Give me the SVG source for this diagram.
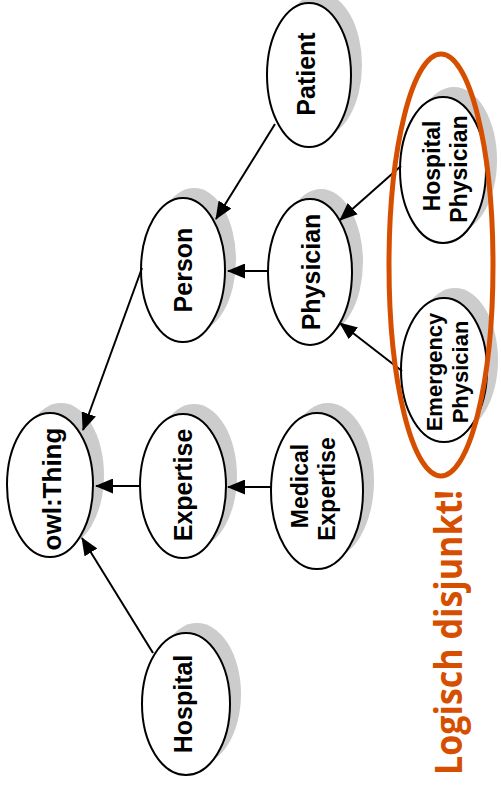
<svg xmlns="http://www.w3.org/2000/svg" width="501" height="787" viewBox="0 0 501 787">
  <style>
    .shadow { fill: #cccccc; stroke: none; }
    .node { fill: #ffffff; stroke: #000000; stroke-width: 2; }
    .label { font-family: "Liberation Sans", Arial, sans-serif; font-weight: bold; fill: #000000; text-anchor: middle; }
    .edge { stroke: #000000; stroke-width: 2; fill: none; marker-end: url(#arrow); }
    .note { font-family: "Open Sans", "Liberation Sans", sans-serif; font-weight: bold; fill: #d64f00; }
  </style>
  <defs>
    <marker id="arrow" viewBox="0 0 18 15" refX="17" refY="7.5" markerWidth="18" markerHeight="15" markerUnits="userSpaceOnUse" orient="auto">
      <path d="M0,0 L18,7.5 L0,15 z" fill="#000000"/>
    </marker>
  </defs>

  <rect width="501" height="787" fill="#ffffff"/>

  <g id="owl-thing">
    <ellipse class="shadow" cx="61" cy="475" rx="43" ry="72"/>
    <ellipse class="node" cx="50" cy="485" rx="43" ry="72"/>
    <text class="label" font-size="26" transform="translate(61,489) rotate(-90)">owl:Thing</text>
  </g>

  <g id="expertise">
    <ellipse class="shadow" cx="194" cy="476" rx="43" ry="72"/>
    <ellipse class="node" cx="183" cy="486" rx="43" ry="72"/>
    <text class="label" font-size="25" transform="translate(192,485) rotate(-90)">Expertise</text>
  </g>

  <g id="medical-expertise">
    <ellipse class="shadow" cx="328" cy="481" rx="46" ry="78"/>
    <ellipse class="node" cx="317" cy="491" rx="46" ry="78"/>
    <text class="label" font-size="23" transform="translate(308,486) rotate(-90)">Medical</text>
    <text class="label" font-size="23" transform="translate(335,489) rotate(-90)">Expertise</text>
  </g>

  <g id="hospital">
    <ellipse class="shadow" cx="197" cy="694" rx="44" ry="71"/>
    <ellipse class="node" cx="186" cy="704" rx="44" ry="71"/>
    <text class="label" font-size="25" transform="translate(192,704) rotate(-90)">Hospital</text>
  </g>

  <g id="person">
    <ellipse class="shadow" cx="194" cy="260" rx="42" ry="72"/>
    <ellipse class="node" cx="183" cy="270" rx="42" ry="72"/>
    <text class="label" font-size="25" transform="translate(192,270) rotate(-90)">Person</text>
  </g>

  <g id="physician">
    <ellipse class="shadow" cx="321" cy="262" rx="42" ry="73"/>
    <ellipse class="node" cx="310" cy="272" rx="42" ry="73"/>
    <text class="label" font-size="25" transform="translate(320,272) rotate(-90)">Physician</text>
  </g>

  <g id="patient">
    <ellipse class="shadow" cx="320" cy="65" rx="42" ry="72"/>
    <ellipse class="node" cx="309" cy="75" rx="42" ry="72"/>
    <text class="label" font-size="25" transform="translate(315,74) rotate(-90)">Patient</text>
  </g>

  <g id="hospital-physician">
    <ellipse class="shadow" cx="454" cy="160" rx="43" ry="73"/>
    <ellipse class="node" cx="443" cy="170" rx="43" ry="73"/>
    <text class="label" font-size="23" transform="translate(440,166) rotate(-90)">Hospital</text>
    <text class="label" font-size="23" transform="translate(467,169) rotate(-90)">Physician</text>
  </g>

  <g id="emergency-physician">
    <ellipse class="shadow" cx="455" cy="360" rx="43" ry="72"/>
    <ellipse class="node" cx="444" cy="370" rx="43" ry="72"/>
    <text class="label" font-size="22" transform="translate(442,372) rotate(-90)">Emergency</text>
    <text class="label" font-size="22" transform="translate(468,372) rotate(-90)">Physician</text>
  </g>

  <!-- subclass connectors, drawn above the node shadows -->
  <g id="connectors">
    <line class="edge" x1="275" y1="124" x2="216" y2="219"/>
    <line class="edge" x1="142" y1="268" x2="83" y2="430"/>
    <line class="edge" x1="267" y1="271" x2="228" y2="271"/>
    <line class="edge" x1="401" y1="166" x2="340" y2="220"/>
    <line class="edge" x1="402" y1="371" x2="340" y2="323"/>
    <line class="edge" x1="141" y1="486" x2="96" y2="486"/>
    <line class="edge" x1="271" y1="487" x2="228" y2="487"/>
    <line class="edge" x1="153" y1="653" x2="82" y2="538"/>
  </g>

  <!-- disjointness highlight -->
  <g id="disjoint-note">
    <ellipse cx="441" cy="265" rx="52" ry="211" fill="none" stroke="#d64f00" stroke-width="5"/>
    <text class="note" font-size="37" textLength="285" lengthAdjust="spacingAndGlyphs" transform="translate(462,775) rotate(-90)">Logisch disjunkt!</text>
  </g>
</svg>
